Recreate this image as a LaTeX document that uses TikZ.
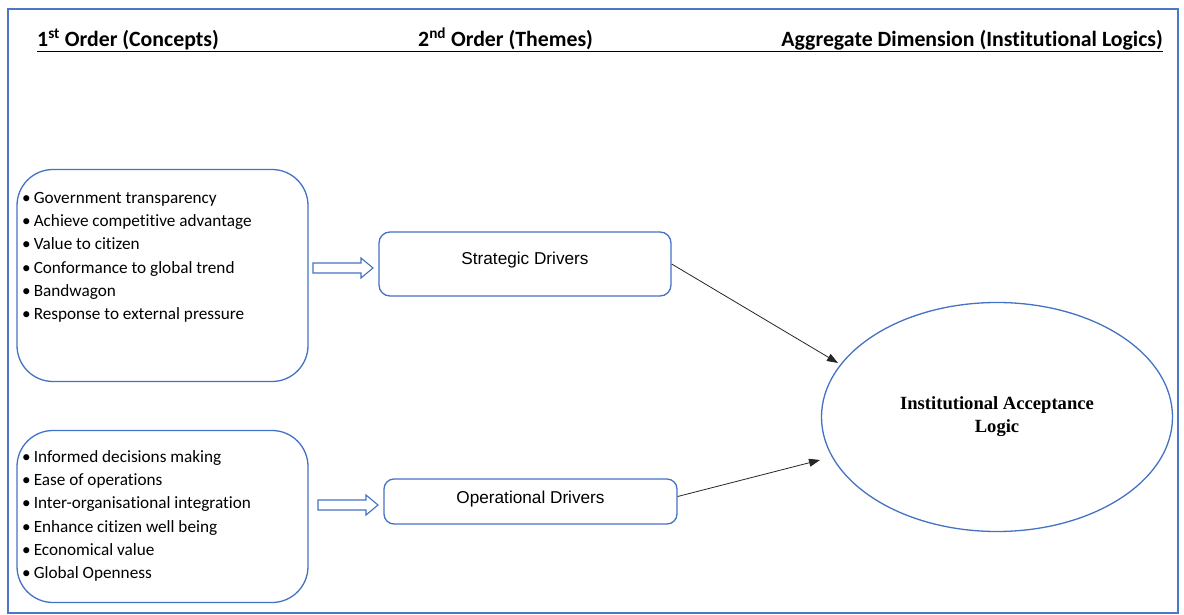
\documentclass[tikz,border=0pt]{standalone}
\usepackage{fontspec}
\setmainfont{Carlito}[Ligatures=NoCommon]
\newfontfamily\arialfont{Liberation Sans}
\newfontfamily\timesfont{Liberation Serif}
\usetikzlibrary{shapes.geometric,arrows.meta,calc}
\definecolor{boxblue}{HTML}{4472C4}
\definecolor{framebl}{HTML}{4A78C6}
\tikzset{
  frame/.style={draw=framebl, line width=2pt},
  headtext/.style={font=\fontsize{21.8}{26}\selectfont\bfseries, inner sep=0pt},
  conceptbox/.style={draw=boxblue, line width=1.3pt, rounded corners=36pt, minimum width=291pt},
  listtext/.style={font=\fontsize{17.2}{23.3}\selectfont, align=left, inner sep=0pt},
  themebox/.style={draw=boxblue, line width=1.3pt, rounded corners=11pt},
  themetext/.style={font=\arialfont\fontsize{17.2}{20}\selectfont, inner sep=0pt},
  logicell/.style={draw=boxblue, line width=1.3pt, ellipse, minimum width=351pt, minimum height=229pt,
    font=\timesfont\bfseries\fontsize{18.6}{23}\selectfont, align=center},
  hollow/.style={draw=boxblue, line width=1.1pt, fill=white, line join=miter},
  link/.style={draw=black!85, line width=0.8pt, -{Triangle[length=11pt,width=8pt]}}
}
\newcommand{\itm}{\textbullet\hspace{3pt}}
\begin{document}
\begin{tikzpicture}[x=1pt,y=-1pt]
\useasboundingbox (0,0) rectangle (1184,615);
\fill[white] (0,0) rectangle (1184,615);
\draw[frame] (8,9) rectangle (1178,613);

% column headings on one underlined line
\node[headtext, anchor=base west] (h1) at (37,46.5) {1\textsuperscript{st} Order (Concepts)};
\node[headtext, anchor=base west] (h2) at (418,46.5) {2\textsuperscript{nd} Order (Themes)};
\node[headtext, anchor=base east] (h3) at (1163,46.5) {Aggregate Dimension (Institutional Logics)};
\draw[line width=1.3pt] (37,51.5) -- (1163,51.5);

% first-order concepts
\node[conceptbox, minimum height=212pt] (c1) at (162.5,275.5) {};
\node[listtext, anchor=north west] (l1) at (22,192) {\itm Government transparency\\
\itm Achieve competitive advantage\\
\itm Value to citizen\\
\itm Conformance to global trend\\
\itm Bandwagon\\
\itm Response to external pressure};

\node[conceptbox, minimum height=172pt] (c2) at (162.5,516.5) {};
\node[listtext, anchor=north west] (l2) at (22,450) {\itm Informed decisions making\\
\itm Ease of operations\\
\itm Inter-organisational integration\\
\itm Enhance citizen well being\\
\itm Economical value\\
\itm Global Openness};

% second-order themes
\node[themebox, minimum width=292pt, minimum height=64pt] (sd) at (525,264) {};
\node[themetext] (sdt) at ($(sd.center)+(0,-4)$) {Strategic Drivers};
\node[themebox, minimum width=293pt, minimum height=45pt, rounded corners=10pt] (od) at (530.5,501.5) {};
\node[themetext] (odt) at ($(od.center)+(0,-2.5)$) {Operational Drivers};

% hollow block arrows from concepts to themes
\coordinate (a1) at (313,268);
\draw[hollow] (a1) -- ++(0,-5) -- ++(48,0) -- ++(0,-5) -- ++(12,10) -- ++(-12,10) -- ++(0,-5) -- ++(-48,0) -- cycle;
\coordinate (a2) at (318,505);
\draw[hollow] (a2) -- ++(0,-5) -- ++(48,0) -- ++(0,-5) -- ++(12,10) -- ++(-12,10) -- ++(0,-5) -- ++(-48,0) -- cycle;

% aggregate dimension
\node[logicell] (ial) at (997,417) {Institutional Acceptance\\Logic};

% links from themes to the logic
\coordinate (t1) at (838,363);
\coordinate (t2) at (820,460);
\draw[link] (sd.east) -- (t1);
\draw[link] ([yshift=5pt]od.east) -- (t2);
\end{tikzpicture}
\end{document}
